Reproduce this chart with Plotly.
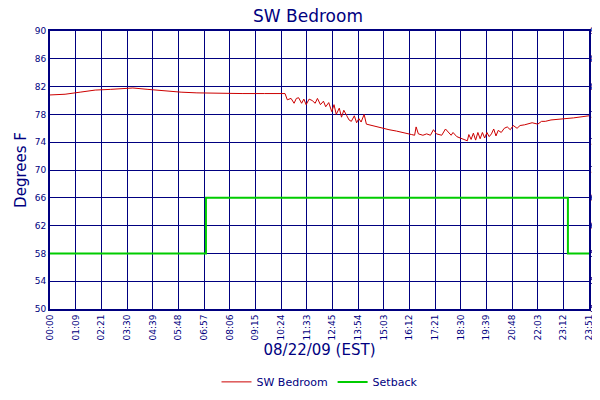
import plotly.graph_objects as go

# temperature readings (time, deg F)
temp_times = ["00:00", "00:40", "01:20", "02:00", "02:40", "03:20", "03:40", "04:20", "05:00",
              "05:48", "06:30", "07:30", "08:30", "09:30", "10:24",
              "10:30", "10:40", "10:48", "10:54", "11:00", "11:08", "11:14", "11:20", "11:28",
              "11:36", "11:44", "11:50", "11:58", "12:06", "12:12", "12:20", "12:28", "12:34",
              "12:40", "12:48", "12:54", "13:00", "13:08", "13:14", "13:20", "13:28", "13:34",
              "13:40", "13:46", "13:54", "14:00", "14:20", "14:40", "15:00", "15:20", "15:40",
              "16:00", "16:08", "16:12", "16:18", "16:30", "16:40", "16:50", "16:58", "17:06",
              "17:20", "17:30", "17:45", "17:50", "18:00", "18:10", "18:20", "18:28", "18:32",
              "18:38", "18:44", "18:50", "18:56", "19:02", "19:08", "19:14", "19:20", "19:26",
              "19:32", "19:38", "19:44", "19:50", "19:58", "20:06", "20:14", "20:22", "20:30",
              "20:40", "20:48", "21:00", "21:20", "21:35", "21:45", "21:55", "22:10",
              "22:40", "23:10", "23:51"]
temp_vals = [80.8, 80.9, 81.2, 81.5, 81.6, 81.8, 81.8, 81.6, 81.4,
             81.2, 81.1, 81.0, 81.0, 81.0, 81.0,
             80.1, 80.3, 79.6, 80.3, 80.4, 79.6, 80.2, 79.4, 80.2,
             80.0, 79.6, 80.3, 79.4, 79.9, 79.1, 79.7, 78.4, 79.4,
             78.0, 78.9, 77.6, 78.6, 77.8, 77.2, 77.0, 77.8, 76.8,
             77.4, 76.9, 78.0, 76.6, 76.3, 76.0, 75.8, 75.6, 75.3,
             75.1, 75.0, 76.2, 75.2, 75.0, 75.2, 75.0, 75.8, 75.2,
             75.0, 75.9, 75.0, 75.4, 74.8, 74.6, 74.4, 74.2, 75.1,
             74.4, 75.3, 74.3, 75.4, 74.5, 75.4, 74.6, 75.4, 74.8,
             75.2, 75.9, 74.9, 75.7, 75.4, 76.0, 76.2, 75.8, 76.4,
             76.0, 76.4, 76.5, 76.8, 76.6, 77.0, 77.0, 77.2,
             77.3, 77.5, 77.8]

# setback schedule (step values)
setback_times = ["00:00", "06:54", "22:55", "23:51"]
setback_vals = [58, 66, 58, 58]

ticks = ["00:00", "01:09", "02:21", "03:30", "04:39", "05:48", "06:57", "08:06", "09:15",
         "10:24", "11:33", "12:45", "13:54", "15:03", "16:12", "17:21", "18:30", "19:39",
         "20:48", "22:03", "23:12", "23:51"]


def mins(t):
    h, m = t.split(":")
    return int(h) * 60 + int(m)


span = mins(ticks[-1])
# grid is drawn at equal steps, the labels are the nearest sample times
tickpos = [i * span / (len(ticks) - 1) for i in range(len(ticks))]

navy = "#000080"
fig = go.Figure()
fig.add_trace(go.Scatter(x=[mins(t) for t in temp_times], y=temp_vals, mode="lines",
                         name="SW Bedroom", line=dict(color="#cc0000", width=1)))
fig.add_trace(go.Scatter(x=[mins(t) for t in setback_times], y=setback_vals, mode="lines",
                         name="Setback", line=dict(color="#00cc00", width=2, shape="hv")))
fig.add_trace(go.Scatter(x=[0], y=[50], yaxis="y2", showlegend=False, hoverinfo="skip",
                         mode="markers", marker=dict(opacity=0)))

yticks = list(range(50, 91, 4))
axis_common = dict(showline=True, linecolor=navy, linewidth=2, mirror=True, automargin=False,
                   gridcolor=navy, gridwidth=1, tickfont=dict(color=navy, size=9),
                   ticks="", zeroline=False)
fig.update_layout(
    width=600, height=400, plot_bgcolor="white", paper_bgcolor="white",
    font=dict(family="DejaVu Sans", color=navy),
    margin=dict(l=42, r=19, t=23, b=81),
    title=dict(text="SW Bedroom", x=0.5, y=0.995, yanchor="top", font=dict(size=17, color=navy)),
    xaxis=dict(range=[0, span], tickvals=tickpos, ticktext=ticks,
               tickangle=-90, title=dict(text="08/22/09 (EST)", font=dict(size=15), standoff=4),
               **axis_common),
    yaxis=dict(range=[50, 90], tickvals=yticks, title=dict(text="Degrees F", font=dict(size=15), standoff=4),
               **axis_common),
    yaxis2=dict(range=[50, 90], tickvals=yticks, overlaying="y", side="right", showgrid=False,
                showline=False, ticks="", automargin=False, tickfont=dict(color=navy, size=9)),
    legend=dict(orientation="h", x=0.5, xanchor="center", y=-0.21, yanchor="top",
                font=dict(size=11, color=navy)),
)
fig.write_html("out.html")
